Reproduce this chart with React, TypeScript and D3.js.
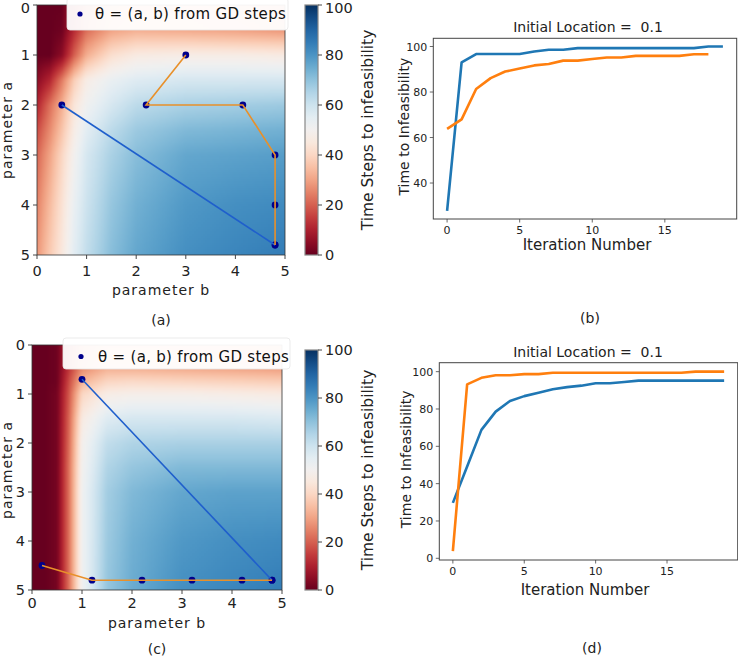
import React, { useMemo } from 'react';
import * as d3 from 'd3';

// ---------------- DATA ----------------
// heatmap grid nodes (parameter b columns, parameter a rows), values = time steps to infeasibility
const bGrid = [0, 0.25, 0.5, 0.75, 1, 1.5, 2, 3, 4, 5];
const aGrid = [0, 0.5, 0.75, 1, 1.5, 2, 2.5, 3, 4, 5];

const fieldA = [
  [0, 0, 0, 10, 20, 28, 30, 30, 28, 26],
  [0, 0, 1, 12, 22, 30, 32, 31, 30, 28],
  [0, 0, 3, 16, 27, 36, 39, 39, 38, 37],
  [0, 0, 5, 20, 32, 42, 46, 47, 47, 46],
  [5, 11, 24, 38, 47, 53, 56, 58, 58, 58],
  [11, 22, 32, 44, 51, 58, 63, 66, 67, 68],
  [17, 26, 36, 47, 55, 63, 68, 72, 73, 74],
  [21, 30, 40, 50, 58, 66, 71, 76, 77, 78],
  [25, 34, 43, 53, 60, 69, 74, 79, 81, 82],
  [28, 37, 45, 55, 62, 71, 76, 81, 83, 85],
];

const fieldC = [
  [0, 0, 1, 14, 24, 30, 30, 30, 29, 28],
  [0, 0, 1, 15, 27, 33, 33, 32, 31, 30],
  [0, 0, 1, 18, 33, 40, 41, 40, 39, 38],
  [0, 0, 2, 20, 40, 47, 48, 48, 47, 46],
  [0, 0, 2, 22, 46, 56, 58, 58, 58, 57],
  [0, 0, 2, 23, 49, 62, 65, 66, 66, 66],
  [0, 0, 2, 24, 50, 65, 69, 72, 72, 72],
  [0, 0, 2, 24, 51, 67, 72, 76, 77, 77],
  [0, 0, 2, 24, 51, 68, 74, 79, 81, 82],
  [0, 0, 2, 24, 51, 69, 75, 81, 83, 85],
];

// GD paths (b, a)
const pathA1B = [0.5, 4.8];
const pathA1A = [2, 4.8];
const pathA2B = [3, 2.2, 4.15, 4.8, 4.8, 4.8];
const pathA2A = [1, 2, 2, 3, 4, 4.8];
const pathC1B = [1, 4.8];
const pathC1A = [0.7, 4.8];
const pathC2B = [0.2, 1.2, 2.2, 3.2, 4.2, 4.8];
const pathC2A = [4.5, 4.8, 4.8, 4.8, 4.8, 4.8];

const heatTicks = [0, 1, 2, 3, 4, 5];
const cbarTicks = [0, 20, 40, 60, 80, 100];

// line charts
const seriesB1 = [27.8, 93.0, 96.7, 96.7, 96.7, 96.7, 97.8, 98.6, 98.6, 99.3, 99.3, 99.3, 99.3, 99.3, 99.3, 99.3, 99.3, 99.3, 100, 100];
const seriesB2 = [63.8, 68.0, 81.3, 86.1, 89.0, 90.3, 91.7, 92.3, 93.8, 93.8, 94.5, 95.2, 95.2, 95.9, 95.9, 95.9, 95.9, 96.6, 96.6];
const seriesD1 = [29.7, 49.2, 68.8, 78.6, 84.3, 86.9, 88.7, 90.6, 91.7, 92.5, 93.8, 93.8, 94.5, 95.2, 95.2, 95.2, 95.2, 95.2, 95.2, 95.2];
const seriesD2 = [3.9, 93.2, 96.7, 98.1, 98.1, 98.7, 98.7, 99.4, 99.4, 99.4, 99.4, 99.4, 99.4, 99.4, 99.4, 99.4, 99.4, 100, 100, 100];
const xTicksLine = [0, 5, 10, 15];
const yTicksB = [40, 60, 80, 100];
const yTicksD = [0, 20, 40, 60, 80, 100];

const FONT = 'DejaVu Sans, sans-serif';
const C0 = '#1f77b4';
const C1 = '#ff7f0e';

// ---------------- HEATMAP ----------------
function makeHeatmapURL(field: number[][], n = 110): string {
  const canvas = document.createElement('canvas');
  canvas.width = n;
  canvas.height = n;
  const ctx = canvas.getContext('2d');
  if (!ctx) return '';
  const img = ctx.createImageData(n, n);
  const bIdx = d3.scaleLinear().domain(bGrid).range(bGrid.map((_, i) => i)).clamp(true);
  const aIdx = d3.scaleLinear().domain(aGrid).range(aGrid.map((_, i) => i)).clamp(true);
  for (let r = 0; r < n; r++) {
    const a = ((r + 0.5) / n) * 5;
    const ai = aIdx(a);
    const a0 = Math.min(Math.floor(ai), aGrid.length - 2);
    const ta = ai - a0;
    for (let c = 0; c < n; c++) {
      const b = ((c + 0.5) / n) * 5;
      const bi = bIdx(b);
      const b0 = Math.min(Math.floor(bi), bGrid.length - 2);
      const tb = bi - b0;
      const v =
        field[a0][b0] * (1 - ta) * (1 - tb) +
        field[a0][b0 + 1] * (1 - ta) * tb +
        field[a0 + 1][b0] * ta * (1 - tb) +
        field[a0 + 1][b0 + 1] * ta * tb;
      const col = d3.rgb(d3.interpolateRdBu(Math.max(0, Math.min(1, v / 100))));
      const k = (r * n + c) * 4;
      img.data[k] = col.r;
      img.data[k + 1] = col.g;
      img.data[k + 2] = col.b;
      img.data[k + 3] = 255;
    }
  }
  ctx.putImageData(img, 0, 0);
  return canvas.toDataURL();
}

type HeatProps = {
  id: string;
  field: number[][];
  x0: number; x1: number; y0: number; y1: number;
  p1b: number[]; p1a: number[]; p2b: number[]; p2a: number[];
  legend: { x: number; y: number; w: number; h: number; dotX: number; dotY: number; textX: number; textY: number };
  cbar: { x: number; w: number; y0: number; y1: number };
  labelY: number; labelX: number; xTickY: number; xLabelY: number; panel: string; panelY: number;
};

function Heatmap(p: HeatProps) {
  const url = useMemo(() => makeHeatmapURL(p.field), [p.field]);
  const xs = d3.scaleLinear().domain([0, 5]).range([p.x0, p.x1]);
  const ys = d3.scaleLinear().domain([0, 5]).range([p.y0, p.y1]);
  const cs = d3.scaleLinear().domain([0, 100]).range([p.cbar.y1, p.cbar.y0]);
  const line = d3.line<[number, number]>().x(d => xs(d[0])).y(d => ys(d[1]));
  const pts1 = p.p1b.map((b, i) => [b, p.p1a[i]] as [number, number]);
  const pts2 = p.p2b.map((b, i) => [b, p.p2a[i]] as [number, number]);
  const gradId = 'grad-' + p.id;
  const stops = d3.range(0, 1.0001, 0.05);
  const cx = (p.x0 + p.x1) / 2;
  return (
    <g>
      <defs>
        <linearGradient id={gradId} x1="0" y1="1" x2="0" y2="0">
          {stops.map(t => (
            <stop key={t} offset={t} stopColor={d3.interpolateRdBu(t)} />
          ))}
        </linearGradient>
      </defs>
      <image href={url} x={p.x0} y={p.y0} width={p.x1 - p.x0} height={p.y1 - p.y0} preserveAspectRatio="none" />
      <rect x={p.x0} y={p.y0} width={p.x1 - p.x0} height={p.y1 - p.y0} fill="none" stroke="#333" strokeWidth={0.8} />
      {[...pts1, ...pts2].map((d, i) => (
        <circle key={i} cx={xs(d[0])} cy={ys(d[1])} r={3.4} fill="#00008b" />
      ))}
      <path d={line(pts1) || ''} fill="none" stroke="#1f5fcc" strokeWidth={1.6} />
      <path d={line(pts2) || ''} fill="none" stroke="#e8902a" strokeWidth={1.6} />
      <rect x={p.legend.x} y={p.legend.y} width={p.legend.w} height={p.legend.h} rx={3} fill="#fff" fillOpacity={0.95} stroke="#e6e6e6" strokeWidth={0.8} />
      <circle cx={p.legend.dotX} cy={p.legend.dotY} r={2.6} fill="#00008b" />
      <text x={p.legend.textX} y={p.legend.textY} fontFamily={FONT} fontSize={15} letterSpacing={0.3} fill="#111">
        θ = (a, b) from GD steps
      </text>
      {heatTicks.map(t => (
        <g key={'x' + t}>
          <line x1={xs(t)} x2={xs(t)} y1={p.y1} y2={p.y1 + 4} stroke="#333" strokeWidth={0.9} />
          <text x={xs(t)} y={p.xTickY} textAnchor="middle" fontFamily={FONT} fontSize={14.5} fill="#222">{t}</text>
        </g>
      ))}
      {heatTicks.map(t => (
        <g key={'y' + t}>
          <line x1={p.x0 - 4} x2={p.x0} y1={ys(t)} y2={ys(t)} stroke="#333" strokeWidth={0.9} />
          <text x={p.x0 - 7} y={Math.max(ys(t) + 5, 13)} textAnchor="end" fontFamily={FONT} fontSize={14.5} fill="#222">{t}</text>
        </g>
      ))}
      <text x={cx} y={p.xLabelY} textAnchor="middle" fontFamily={FONT} fontSize={14} letterSpacing={1} fill="#222">parameter b</text>
      <text transform={`translate(${p.labelX},${p.labelY}) rotate(-90)`} textAnchor="middle" fontFamily={FONT} fontSize={14} letterSpacing={1} fill="#222">parameter a</text>
      <text x={cx} y={p.panelY} textAnchor="middle" fontFamily={FONT} fontSize={14} fill="#222">{p.panel}</text>
      <rect x={p.cbar.x} y={p.cbar.y0} width={p.cbar.w} height={p.cbar.y1 - p.cbar.y0} fill={`url(#${gradId})`} stroke="#888" strokeWidth={1.2} />
      {cbarTicks.map(t => (
        <g key={'c' + t}>
          <line x1={p.cbar.x + p.cbar.w} x2={p.cbar.x + p.cbar.w + 4} y1={cs(t)} y2={cs(t)} stroke="#333" strokeWidth={0.9} />
          <text x={p.cbar.x + p.cbar.w + 7} y={Math.max(cs(t) + 5, 13)} fontFamily={FONT} fontSize={14.5} fill="#222">{t}</text>
        </g>
      ))}
      <text transform={`translate(${p.cbar.x + 68},${(p.cbar.y0 + p.cbar.y1) / 2}) rotate(-90)`} textAnchor="middle" fontFamily={FONT} fontSize={15.5} fill="#222">
        Time Steps to infeasibility
      </text>
    </g>
  );
}

// ---------------- LINE CHART ----------------
type LineProps = {
  s1: number[]; s2: number[]; yTicks: number[];
  x0: number; x1: number; y0: number; y1: number;
  titleX: number; titleY: number; xTickY: number; xLabelX: number; xLabelY: number; yLabelX: number;
  panel: string; panelX: number; panelY: number;
};

function LineChart(p: LineProps) {
  const all = [...p.s1, ...p.s2];
  const [mn, mx] = d3.extent(all) as [number, number];
  const pad = (mx - mn) * 0.05;
  const n = Math.max(p.s1.length, p.s2.length) - 1;
  const xs = d3.scaleLinear().domain([-n * 0.05, n * 1.05]).range([p.x0, p.x1]);
  const ys = d3.scaleLinear().domain([mn - pad, mx + pad]).range([p.y1, p.y0]);
  const line = d3.line<number>().x((_, i) => xs(i)).y(d => ys(d));
  return (
    <g>
      <path d={line(p.s1) || ''} fill="none" stroke={C0} strokeWidth={2.6} strokeLinejoin="round" />
      <path d={line(p.s2) || ''} fill="none" stroke={C1} strokeWidth={2.6} strokeLinejoin="round" />
      <rect x={p.x0} y={p.y0} width={p.x1 - p.x0} height={p.y1 - p.y0} fill="none" stroke="#444" strokeWidth={1} />
      {xTicksLine.map(t => (
        <g key={'x' + t}>
          <line x1={xs(t)} x2={xs(t)} y1={p.y1} y2={p.y1 + 3.5} stroke="#444" strokeWidth={0.8} />
          <text x={xs(t)} y={p.xTickY} textAnchor="middle" fontFamily={FONT} fontSize={11} fill="#222">{t}</text>
        </g>
      ))}
      {p.yTicks.map(t => (
        <g key={'y' + t}>
          <line x1={p.x0 - 3.5} x2={p.x0} y1={ys(t)} y2={ys(t)} stroke="#444" strokeWidth={0.8} />
          <text x={p.x0 - 6} y={ys(t) + 4} textAnchor="end" fontFamily={FONT} fontSize={11} fill="#222">{t}</text>
        </g>
      ))}
      <text x={p.titleX} y={p.titleY} textAnchor="middle" fontFamily={FONT} fontSize={14} fill="#222" xmlSpace="preserve">Initial Location =  0.1</text>
      <text x={p.xLabelX} y={p.xLabelY} textAnchor="middle" fontFamily={FONT} fontSize={15} fill="#222">Iteration Number</text>
      <text transform={`translate(${p.yLabelX},${(p.y0 + p.y1) / 2 - 2}) rotate(-90)`} textAnchor="middle" fontFamily={FONT} fontSize={14} fill="#222">Time to Infeasibility</text>
      <text x={p.panelX} y={p.panelY} textAnchor="middle" fontFamily={FONT} fontSize={14} fill="#222">{p.panel}</text>
    </g>
  );
}

export default function App() {
  return (
    <svg width={738} height={657} style={{ position: 'absolute', left: 0, top: 0, background: '#fff' }}>
      <rect x={0} y={0} width={738} height={657} fill="#fff" />
      <Heatmap
        id="a" field={fieldA}
        x0={37} x1={285} y0={5} y1={255}
        p1b={pathA1B} p1a={pathA1A} p2b={pathA2B} p2a={pathA2A}
        legend={{ x: 67, y: -2, w: 221, h: 32, dotX: 80, dotY: 14, textX: 95, textY: 19 }}
        cbar={{ x: 305, w: 13, y0: 5, y1: 255 }}
        labelX={12} labelY={130} xTickY={276} xLabelY={295} panel="(a)" panelY={325}
      />
      <Heatmap
        id="c" field={fieldC}
        x0={32} x1={282} y0={345} y1={590}
        p1b={pathC1B} p1a={pathC1A} p2b={pathC2B} p2a={pathC2A}
        legend={{ x: 63, y: 338, w: 227, h: 31, dotX: 81, dotY: 356.5, textX: 98, textY: 362 }}
        cbar={{ x: 305, w: 13, y0: 350, y1: 590 }}
        labelX={12} labelY={470} xTickY={608} xLabelY={628} panel="(c)" panelY={654}
      />
      <LineChart
        s1={seriesB1} s2={seriesB2} yTicks={yTicksB}
        x0={433.3} x1={736.7} y0={38.3} y1={219}
        titleX={588} titleY={32} xTickY={234} xLabelX={587} xLabelY={250} yLabelX={409}
        panel="(b)" panelX={590} panelY={323}
      />
      <LineChart
        s1={seriesD1} s2={seriesD2} yTicks={yTicksD}
        x0={439.3} x1={737.7} y0={362.7} y1={560}
        titleX={588} titleY={357} xTickY={575} xLabelX={585} xLabelY={595} yLabelX={411}
        panel="(d)" panelX={592} panelY={653}
      />
    </svg>
  );
}
